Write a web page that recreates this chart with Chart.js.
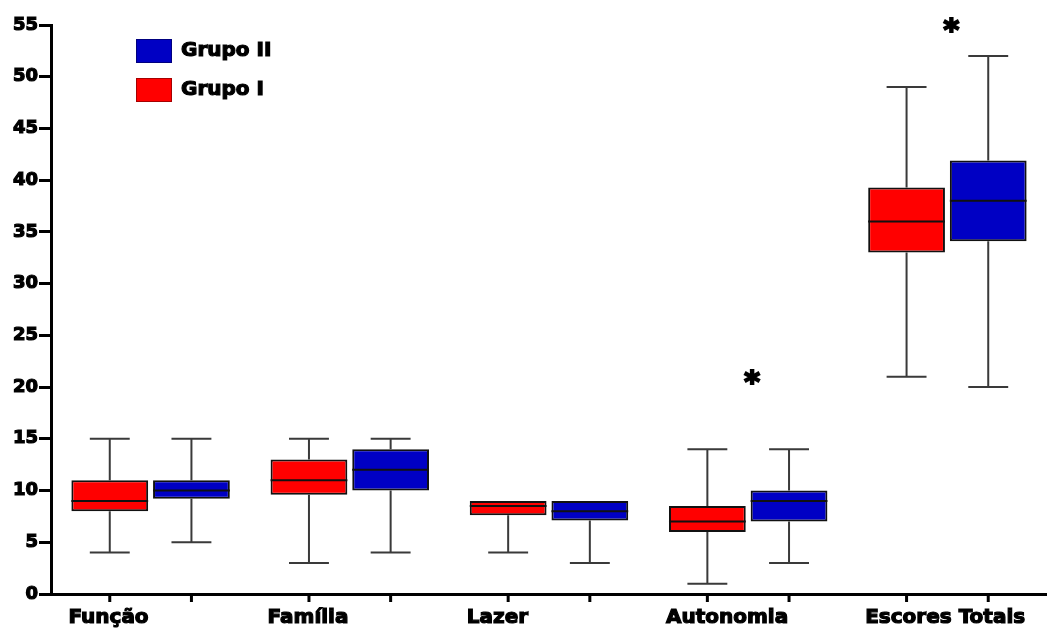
<!DOCTYPE html>
<html>
<head>
<meta charset="utf-8">
<script src="https://cdn.jsdelivr.net/npm/chart.js@4/dist/chart.umd.min.js"></script>
<style>
html, body { margin: 0; padding: 0; background: #fff; }
</style>
</head>
<body>
<canvas id="chart" width="1047" height="628"></canvas>
<script>
// categories on the x axis
var categories = ['Função', 'Família', 'Lazer', 'Autonomia', 'Escores Totais'];

// Grupo I (red) five-number summaries
var grupo1Min    = [4, 3, 4, 1, 21];
var grupo1Q1     = [8, 9.6, 7.6, 6, 33];
var grupo1Median = [9, 11, 8.5, 7, 36];
var grupo1Q3     = [11, 13, 9, 8.5, 39.3];
var grupo1Max    = [15, 15, 9, 14, 49];

// Grupo II (blue)
var grupo2Min    = [5, 4, 3, 3, 20];
var grupo2Q1     = [9.2, 10, 7.1, 7, 34.1];
var grupo2Median = [10, 12, 8, 9, 38];
var grupo2Q3     = [11, 14, 9, 10, 41.9];
var grupo2Max    = [15, 15, 9, 14, 52];

// significance marks (value on the y axis where the asterisk sits)
var starValues = [null, null, null, 21, 55];

var yTicks = { min: 0, max: 55, step: 5 };

var FONT = 'DejaVu Sans';

function boxes(q1, q3) {
    return q1.map(function(v, i) { return [v, q3[i]]; });
}

var datasets = [{
    label: 'Grupo I',
    data: boxes(grupo1Q1, grupo1Q3),
    backgroundColor: '#ff0000',
    stats: { min: grupo1Min, median: grupo1Median, max: grupo1Max }
}, {
    label: 'Grupo II',
    data: boxes(grupo2Q1, grupo2Q3),
    backgroundColor: '#0000c4',
    stats: { min: grupo2Min, median: grupo2Median, max: grupo2Max }
}];
datasets.forEach(function(ds) {
    ds.borderColor = '#111';
    ds.borderWidth = 2;
    ds.borderSkipped = false;
    ds.categoryPercentage = 0.82;
    ds.barPercentage = 0.94;
});

// heavy text: fill plus a thin stroke of the same colour
function heavyText(ctx, s, x, y) {
    ctx.fillText(s, x, y);
    ctx.strokeText(s, x, y);
}

// whiskers, medians, axis ticks, asterisks, legend and category labels
var boxPlot = {
    id: 'boxPlot',
    beforeDatasetsDraw: function(chart) {
        var ctx = chart.ctx, y = chart.scales.y;
        ctx.save();
        ctx.strokeStyle = '#3a3a3a';
        ctx.lineWidth = 2;
        chart.data.datasets.forEach(function(ds, di) {
            chart.getDatasetMeta(di).data.forEach(function(bar, i) {
                var cap = bar.width * 0.26;
                var q = ds.data[i];
                ctx.beginPath();
                if (ds.stats.max[i] > q[1]) {
                    var top = y.getPixelForValue(ds.stats.max[i]);
                    ctx.moveTo(bar.x, top); ctx.lineTo(bar.x, y.getPixelForValue(q[1]));
                    ctx.moveTo(bar.x - cap, top); ctx.lineTo(bar.x + cap, top);
                }
                if (ds.stats.min[i] < q[0]) {
                    var bot = y.getPixelForValue(ds.stats.min[i]);
                    ctx.moveTo(bar.x, bot); ctx.lineTo(bar.x, y.getPixelForValue(q[0]));
                    ctx.moveTo(bar.x - cap, bot); ctx.lineTo(bar.x + cap, bot);
                }
                ctx.stroke();
            });
        });
        ctx.restore();
    },
    afterDatasetsDraw: function(chart) {
        var ctx = chart.ctx, y = chart.scales.y, x = chart.scales.x;
        var area = chart.chartArea;
        ctx.save();
        // medians
        ctx.strokeStyle = '#111';
        ctx.lineWidth = 2;
        chart.data.datasets.forEach(function(ds, di) {
            chart.getDatasetMeta(di).data.forEach(function(bar, i) {
                var m = y.getPixelForValue(ds.stats.median[i]);
                ctx.beginPath();
                ctx.moveTo(bar.x - bar.width / 2, m);
                ctx.lineTo(bar.x + bar.width / 2, m);
                ctx.stroke();
            });
        });
        // tick marks under each box
        ctx.strokeStyle = '#000';
        ctx.lineWidth = 3;
        chart.data.datasets.forEach(function(ds, di) {
            chart.getDatasetMeta(di).data.forEach(function(bar) {
                ctx.beginPath();
                ctx.moveTo(bar.x, area.bottom);
                ctx.lineTo(bar.x, area.bottom + 8);
                ctx.stroke();
            });
        });
        // asterisks
        ctx.fillStyle = '#000';
        ctx.strokeStyle = '#000';
        ctx.lineWidth = 2;
        ctx.font = 'bold 30px ' + FONT;
        ctx.textAlign = 'center';
        ctx.textBaseline = 'middle';
        starValues.forEach(function(v, i) {
            if (v === null) return;
            heavyText(ctx, '*', x.getPixelForValue(i) + 4, y.getPixelForValue(v) + 7);
        });
        ctx.restore();
    },
    afterDraw: function(chart) {
        var ctx = chart.ctx, area = chart.chartArea;
        ctx.save();
        ctx.fillStyle = '#000';
        ctx.strokeStyle = '#000';
        ctx.lineWidth = 1.2;
        // category labels, starting at the left edge of the first box
        ctx.font = 'bold 20px ' + FONT;
        ctx.textAlign = 'left';
        ctx.textBaseline = 'alphabetic';
        var first = chart.getDatasetMeta(0).data;
        categories.forEach(function(c, i) {
            var left = first[i].x - first[i].width / 2 - 3;
            var w = ctx.measureText(c).width;
            left = Math.min(left, chart.width - 8 - w);
            heavyText(ctx, c, left, area.bottom + 29);
        });
        // legend, Grupo II listed first
        ctx.textBaseline = 'middle';
        var items = chart.data.datasets.slice().reverse();
        items.forEach(function(ds, k) {
            var top = 39 + k * 39;
            ctx.fillStyle = ds.backgroundColor;
            ctx.fillRect(136, top, 36, 24);
            ctx.save();
            ctx.strokeStyle = 'rgba(0,0,0,0.35)';
            ctx.lineWidth = 1;
            ctx.strokeRect(136.5, top + 0.5, 35, 23);
            ctx.restore();
            ctx.fillStyle = '#000';
            heavyText(ctx, ds.label, 181, top + 12);
        });
        ctx.restore();
    }
};

new Chart(document.getElementById('chart').getContext('2d'), {
    type: 'bar',
    data: { labels: categories, datasets: datasets },
    options: {
        responsive: false,
        animation: false,
        layout: { padding: { top: 25, right: 0, left: 0, bottom: 0 } },
        plugins: { legend: { display: false }, tooltip: { enabled: false } },
        scales: {
            x: {
                grid: { display: false },
                border: { display: true, color: '#000', width: 3 },
                ticks: { display: false },
                afterFit: function(scale) { scale.height = 34; }
            },
            y: {
                min: yTicks.min,
                max: yTicks.max,
                grid: { drawOnChartArea: false, drawTicks: true, tickLength: 12, tickWidth: 3, tickColor: '#000', lineWidth: 3, color: '#000' },
                border: { display: true, color: '#000', width: 3 },
                ticks: {
                    stepSize: yTicks.step,
                    padding: 1,
                    color: '#000',
                    textStrokeColor: '#000',
                    textStrokeWidth: 1.2,
                    font: { family: FONT, weight: 'bold', size: 18 }
                },
                afterFit: function(scale) { scale.width = 51; }
            }
        }
    },
    plugins: [boxPlot]
});
</script>
</body>
</html>
